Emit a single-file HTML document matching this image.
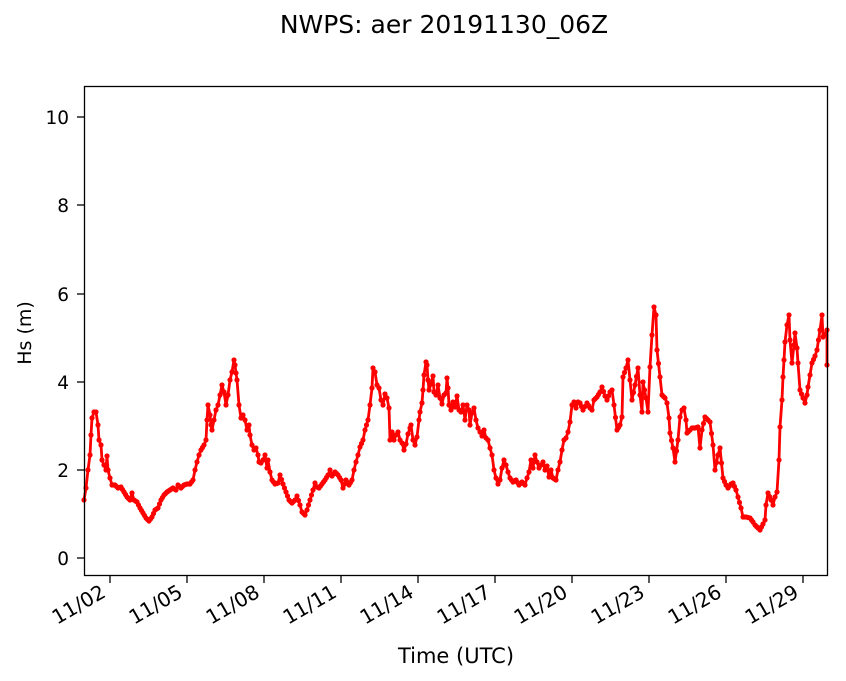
<!DOCTYPE html>
<html><head><meta charset="utf-8"><style>
body{margin:0;background:#fff;}
svg{display:block;font-family:"DejaVu Sans","Liberation Sans",sans-serif;}
</style></head><body>
<svg id="s" width="846" height="681" viewBox="0 0 846 681" xmlns="http://www.w3.org/2000/svg">
<text x="444" y="33" font-size="25" text-anchor="middle">NWPS: aer 20191130_06Z</text>
<polyline id="pl" fill="none" stroke="#f00" stroke-width="2.8" stroke-linejoin="round" points="84,500 86,488 88,470 90,455 91,435 92,418 94,412 96,412 98,425 99,440 101,445 102,460 104,465 106,470 107,456 108,470 110,478 112,485 115,485 118,488 121,487 124,492 127,497 130,500 132,493 134,500 137,502 140,508 143,513 146,518 149,521 152,517 155,510 158,508 161,500 164,495 167,492 170,490 173,488 176,490 178,485 181,488 184,485 187,484 190,484 193,480 195,470 197,462 199,455 201,450 204,445 206,440 207,420 208,405 210,415 211,425 212,430 214,420 216,410 218,405 220,395 222,385 224,392 226,405 228,395 230,380 232,372 234,360 235,365 236,373 237,380 239,405 241,418 243,415 245,420 247,430 249,425 250,435 252,445 254,450 256,448 258,455 259,462 261,463 263,460 265,455 267,468 268,460 270,472 272,480 275,484 278,483 280,475 283,484 286,492 289,500 292,503 295,500 297,496 300,505 302,512 305,515 307,510 310,500 313,490 315,483 317,487 319,488 322,484 325,480 328,475 330,470 332,476 335,472 338,475 341,480 343,488 346,480 349,485 352,480 354,470 356,462 358,455 360,447 363,440 365,430 368,420 370,405 372,388 373,368 375,372 377,385 379,388 381,400 383,405 385,394 387,398 389,408 390,440 392,432 394,440 396,435 398,432 400,440 402,443 404,450 406,444 408,434 410,428 411,425 413,440 415,445 417,437 419,420 420,412 422,403 423,390 424,375 426,362 427,365 428,380 429,390 431,384 433,376 434,392 436,395 438,385 440,398 442,404 444,395 446,393 447,378 448,388 449,405 451,410 453,402 455,407 457,396 459,410 461,412 463,405 465,420 467,405 469,410 470,425 472,413 474,408 476,420 478,428 480,432 482,436 484,430 486,438 488,440 490,448 492,455 494,470 496,478 498,484 500,480 502,468 504,460 506,465 508,472 510,478 513,482 516,480 519,485 522,482 525,485 527,478 529,472 531,460 533,468 535,455 537,462 539,468 541,465 543,462 545,470 547,466 549,477 551,470 553,478 556,480 558,470 560,462 562,450 564,440 566,438 568,432 570,422 572,405 574,402 576,408 578,402 580,403 583,410 587,403 590,408 592,410 594,400 597,397 600,392 602,387 605,396 607,400 610,392 612,390 614,405 617,430 620,425 622,417 623,377 626,368 628,360 630,380 632,400 635,385 638,368 640,395 642,412 643,382 646,398 648,412 650,367 652,335 654,307 656,315 657,350 660,377 662,395 665,398 667,403 669,418 670,433 673,448 675,462 678,440 680,417 682,410 684,408 686,420 687,433 690,430 692,428 695,428 698,427 700,448 702,430 705,417 708,420 710,422 713,445 715,470 718,455 720,448 723,478 726,485 728,488 731,484 733,483 736,490 738,497 741,508 743,517 746,517 750,518 753,522 755,525 758,528 760,530 763,524 765,520 766,505 768,493 771,500 773,505 775,497 777,492 779,460 780,427 782,400 783,377 784,360 785,342 787,325 789,315 790,340 792,363 794,345 795,333 797,348 798,363 800,390 803,398 805,403 807,395 808,387 810,375 812,363 815,356 817,350 820,330 822,315 823,337 825,334 827,330 827,365"/>
<g id="mk" fill="#f00"></g>
<rect x="84.5" y="86.5" width="743" height="489" fill="none" stroke="#000" stroke-width="1.3"/>
<g font-size="18.5" text-anchor="end">
<line x1="77" y1="558" x2="84" y2="558" stroke="#000" stroke-width="1.3"/><text x="69" y="565">0</text>
<line x1="77" y1="470" x2="84" y2="470" stroke="#000" stroke-width="1.3"/><text x="69" y="477">2</text>
<line x1="77" y1="382" x2="84" y2="382" stroke="#000" stroke-width="1.3"/><text x="69" y="389">4</text>
<line x1="77" y1="294" x2="84" y2="294" stroke="#000" stroke-width="1.3"/><text x="69" y="301">6</text>
<line x1="77" y1="205" x2="84" y2="205" stroke="#000" stroke-width="1.3"/><text x="69" y="212">8</text>
<line x1="77" y1="117" x2="84" y2="117" stroke="#000" stroke-width="1.3"/><text x="69" y="124">10</text>
</g>
<text transform="translate(31,333) rotate(-90)" font-size="19" text-anchor="middle">Hs (m)</text>
<g stroke="#000" stroke-width="1.3">
<line x1="110" y1="576" x2="110" y2="583"/><line x1="187" y1="576" x2="187" y2="583"/><line x1="264" y1="576" x2="264" y2="583"/><line x1="341" y1="576" x2="341" y2="583"/><line x1="418" y1="576" x2="418" y2="583"/><line x1="495" y1="576" x2="495" y2="583"/><line x1="572" y1="576" x2="572" y2="583"/><line x1="649" y1="576" x2="649" y2="583"/><line x1="726" y1="576" x2="726" y2="583"/><line x1="803" y1="576" x2="803" y2="583"/>
</g>
<g font-size="20" text-anchor="end">
<text transform="translate(107,596) rotate(-30)">11/02</text>
<text transform="translate(184,596) rotate(-30)">11/05</text>
<text transform="translate(261,596) rotate(-30)">11/08</text>
<text transform="translate(338,596) rotate(-30)">11/11</text>
<text transform="translate(415,596) rotate(-30)">11/14</text>
<text transform="translate(492,596) rotate(-30)">11/17</text>
<text transform="translate(569,596) rotate(-30)">11/20</text>
<text transform="translate(646,596) rotate(-30)">11/23</text>
<text transform="translate(723,596) rotate(-30)">11/26</text>
<text transform="translate(800,596) rotate(-30)">11/29</text>
</g>
<text x="456" y="663" font-size="21" text-anchor="middle">Time (UTC)</text>
</svg>
<script>
(function(){
var pts=document.getElementById('pl').getAttribute('points').trim().split(/\s+/).map(function(p){return p.split(',').map(Number);});
var g=document.getElementById('mk'),h='';
for(var i=0;i<pts.length;i++){
 var a=pts[i];h+='<circle cx="'+a[0]+'" cy="'+a[1]+'" r="2.6"/>';
 if(i<pts.length-1){var b=pts[i+1],dx=b[0]-a[0];var n=Math.floor(dx/2.6);
  for(var k=1;k<=n;k++){var t=k/(n+1);h+='<circle cx="'+(a[0]+dx*t)+'" cy="'+(a[1]+(b[1]-a[1])*t)+'" r="2.6"/>';}}
}
g.innerHTML=h;
})();
</script>
</body></html>
